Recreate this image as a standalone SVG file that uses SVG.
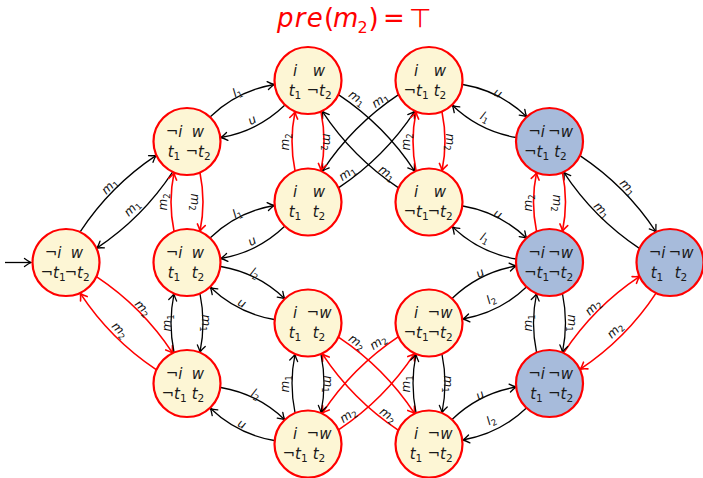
<svg xmlns="http://www.w3.org/2000/svg" width="703" height="478" viewBox="0 0 703 478">
<defs>
<style>
.nd circle{stroke:#f00;stroke-width:2.2}
.y circle{fill:#fdf6d5}
.b circle{fill:#a7bbdb}
.nd text{font-family:"DejaVu Sans",sans-serif;font-size:15px;fill:#1a1a1a;text-anchor:middle}
.v{font-style:italic}
.s{font-size:10.5px;font-style:normal}
.k{fill:none;stroke:#000;stroke-width:1.3;marker-end:url(#ak)}
.r{fill:none;stroke:#f00;stroke-width:1.6;marker-end:url(#ar)}
.lk{font-family:"DejaVu Sans",sans-serif;font-size:12px;font-style:italic;text-anchor:middle;fill:#111}
.ls{font-size:8.5px;font-style:normal}
</style>
<marker id="ak" markerUnits="userSpaceOnUse" viewBox="-8 -5 9 10" markerWidth="9" markerHeight="10" refX="0" refY="0" orient="auto" overflow="visible">
<path d="M-6.5,-4 Q-2.5,-1 0,0 Q-2.5,1 -6.5,4" fill="none" stroke="#000" stroke-width="1.3" stroke-linecap="round"/>
</marker>
<marker id="ar" markerUnits="userSpaceOnUse" viewBox="-8 -5 9 10" markerWidth="9" markerHeight="10" refX="0" refY="0" orient="auto" overflow="visible">
<path d="M-6.5,-4 Q-2.5,-1 0,0 Q-2.5,1 -6.5,4" fill="none" stroke="#f00" stroke-width="1.6" stroke-linecap="round"/>
</marker>
</defs>

<text id="title" font-family="DejaVu Sans, sans-serif" font-size="26" fill="#f00" y="27"><tspan x="277" font-style="italic" letter-spacing="1.3">pre</tspan><tspan x="324">(</tspan><tspan x="333" font-style="italic">m</tspan><tspan x="357.5" font-size="16" dy="6">2</tspan><tspan x="368.5" dy="-6">)</tspan><tspan x="383">=</tspan><tspan x="409">⊤</tspan></text>

<g id="connectors">
<path class="k" d="M5,262.5 H31"/>
<path class="k" transform="translate(66,262.5)" d="M14.3,-30.85 Q44.5,-76.7 90.2,-107.1"/>
<path class="k" transform="translate(66,262.5)" d="M106.7,-90.65 Q76.5,-44.8 30.8,-14.4"/>
<path class="r" transform="translate(66,262.5)" d="M30.8,14.4 Q76.5,44.8 106.7,90.65"/>
<path class="r" transform="translate(66,262.5)" d="M90.2,107.1 Q44.5,76.7 14.3,30.85"/>
<path class="k" transform="translate(187,141.5)" d="M23.3,-24.8 Q50.3,-50.7 87.2,-57"/>
<path class="k" transform="translate(187,141.5)" d="M97.7,-36.2 Q70.7,-10.3 33.8,-4"/>
<path class="k" transform="translate(187,262.5)" d="M23.3,-24.8 Q50.3,-50.7 87.2,-57"/>
<path class="k" transform="translate(187,262.5)" d="M97.7,-36.2 Q70.7,-10.3 33.8,-4"/>
<path class="k" transform="translate(187,262.5)" d="M33.8,4 Q70.7,10.3 97.7,36.2"/>
<path class="k" transform="translate(187,262.5)" d="M87.2,57 Q50.3,50.7 23.3,24.8"/>
<path class="k" transform="translate(187,383.5)" d="M33.8,4 Q70.7,10.3 97.7,36.2"/>
<path class="k" transform="translate(187,383.5)" d="M87.2,57 Q50.3,50.7 23.3,24.8"/>
<path class="k" transform="translate(308,80.5)" d="M30.8,14.4 Q76.5,44.8 106.7,90.65"/>
<path class="k" transform="translate(308,80.5)" d="M90.2,107.1 Q44.5,76.7 14.3,30.85"/>
<path class="k" transform="translate(308,202)" d="M90.2,-107.1 Q44.5,-76.7 14.3,-30.85"/>
<path class="k" transform="translate(308,202)" d="M30.8,-14.4 Q76.5,-44.8 106.7,-90.65"/>
<path class="r" transform="translate(308,323)" d="M30.8,14.4 Q76.5,44.8 106.7,90.65"/>
<path class="r" transform="translate(308,323)" d="M90.2,107.1 Q44.5,76.7 14.3,30.85"/>
<path class="r" transform="translate(308,444)" d="M90.2,-107.1 Q44.5,-76.7 14.3,-30.85"/>
<path class="r" transform="translate(308,444)" d="M30.8,-14.4 Q76.5,-44.8 106.7,-90.65"/>
<path class="k" transform="translate(429,80.5)" d="M33.8,4 Q70.7,10.3 97.7,36.2"/>
<path class="k" transform="translate(429,80.5)" d="M87.2,57 Q50.3,50.7 23.3,24.8"/>
<path class="k" transform="translate(429,202)" d="M33.8,4 Q70.7,10.3 97.7,36.2"/>
<path class="k" transform="translate(429,202)" d="M87.2,57 Q50.3,50.7 23.3,24.8"/>
<path class="k" transform="translate(429,323)" d="M23.3,-24.8 Q50.3,-50.7 87.2,-57"/>
<path class="k" transform="translate(429,323)" d="M97.7,-36.2 Q70.7,-10.3 33.8,-4"/>
<path class="k" transform="translate(429,444)" d="M23.3,-24.8 Q50.3,-50.7 87.2,-57"/>
<path class="k" transform="translate(429,444)" d="M97.7,-36.2 Q70.7,-10.3 33.8,-4"/>
<path class="k" transform="translate(549.5,141.5)" d="M30.8,14.4 Q76.5,44.8 106.7,90.65"/>
<path class="k" transform="translate(549.5,141.5)" d="M90.2,107.1 Q44.5,76.7 14.3,30.85"/>
<path class="r" transform="translate(549.5,383.5)" d="M14.3,-30.85 Q44.5,-76.7 90.2,-107.1"/>
<path class="r" transform="translate(549.5,383.5)" d="M106.7,-90.65 Q76.5,-44.8 30.8,-14.4"/>
<path class="r" transform="translate(187,141.5)" d="M13,31.4 Q19,60.5 13,89.6"/>
<path class="r" transform="translate(187,141.5)" d="M-13,89.6 Q-19,60.5 -13,31.4"/>
<path class="k" transform="translate(187,262.5)" d="M13,31.4 Q19,60.5 13,89.6"/>
<path class="k" transform="translate(187,262.5)" d="M-13,89.6 Q-19,60.5 -13,31.4"/>
<path class="r" transform="translate(308,80.5)" d="M13,31.4 Q19,61 13,90.1"/>
<path class="r" transform="translate(308,80.5)" d="M-13,90.1 Q-19,61 -13,31.4"/>
<path class="r" transform="translate(429,80.5)" d="M13,31.4 Q19,61 13,90.1"/>
<path class="r" transform="translate(429,80.5)" d="M-13,90.1 Q-19,61 -13,31.4"/>
<path class="k" transform="translate(308,323)" d="M13,31.4 Q19,60.5 13,89.6"/>
<path class="k" transform="translate(308,323)" d="M-13,89.6 Q-19,60.5 -13,31.4"/>
<path class="k" transform="translate(429,323)" d="M13,31.4 Q19,60.5 13,89.6"/>
<path class="k" transform="translate(429,323)" d="M-13,89.6 Q-19,60.5 -13,31.4"/>
<path class="r" transform="translate(549.5,141.5)" d="M13,31.4 Q19,60.5 13,89.6"/>
<path class="r" transform="translate(549.5,141.5)" d="M-13,89.6 Q-19,60.5 -13,31.4"/>
<path class="k" transform="translate(549.5,262.5)" d="M13,31.4 Q19,60.5 13,89.6"/>
<path class="k" transform="translate(549.5,262.5)" d="M-13,89.6 Q-19,60.5 -13,31.4"/>

<text class="lk" transform="translate(109.5,186) rotate(-45)" y="4">m<tspan class="ls" dy="2.5">1</tspan></text>
<text class="lk" transform="translate(132,208) rotate(-45)" y="4">m<tspan class="ls" dy="2.5">1</tspan></text>
<text class="lk" transform="translate(237,92) rotate(-27)" y="4">l<tspan class="ls" dy="2.5">1</tspan></text>
<text class="lk" transform="translate(252,120) rotate(-27)" y="4">u</text>
<text class="lk" transform="translate(237,213) rotate(-27)" y="4">l<tspan class="ls" dy="2.5">1</tspan></text>
<text class="lk" transform="translate(252,241) rotate(-27)" y="4">u</text>
<text class="lk" transform="translate(255,273) rotate(27)" y="4">l<tspan class="ls" dy="2.5">2</tspan></text>
<text class="lk" transform="translate(242,303) rotate(27)" y="4">u</text>
<text class="lk" transform="translate(256,394) rotate(27)" y="4">l<tspan class="ls" dy="2.5">2</tspan></text>
<text class="lk" transform="translate(242,424) rotate(27)" y="4">u</text>
<text class="lk" transform="translate(167,323) rotate(-90)" y="4">m<tspan class="ls" dy="2.5">1</tspan></text>
<text class="lk" transform="translate(206,323) rotate(90)" y="4">m<tspan class="ls" dy="2.5">1</tspan></text>
<text class="lk" transform="translate(357,98) rotate(35)" y="4">m<tspan class="ls" dy="2.5">1</tspan></text>
<text class="lk" transform="translate(387,173) rotate(35)" y="4">m<tspan class="ls" dy="2.5">1</tspan></text>
<text class="lk" transform="translate(380,100) rotate(-35)" y="4">m<tspan class="ls" dy="2.5">1</tspan></text>
<text class="lk" transform="translate(347,173) rotate(-35)" y="4">m<tspan class="ls" dy="2.5">1</tspan></text>
<text class="lk" transform="translate(285,384) rotate(-90)" y="4">m<tspan class="ls" dy="2.5">1</tspan></text>
<text class="lk" transform="translate(328,384) rotate(90)" y="4">m<tspan class="ls" dy="2.5">1</tspan></text>
<text class="lk" transform="translate(406,384) rotate(-90)" y="4">m<tspan class="ls" dy="2.5">1</tspan></text>
<text class="lk" transform="translate(448,384) rotate(90)" y="4">m<tspan class="ls" dy="2.5">1</tspan></text>
<text class="lk" transform="translate(498,93) rotate(27)" y="4">u</text>
<text class="lk" transform="translate(485,117) rotate(27)" y="4">l<tspan class="ls" dy="2.5">1</tspan></text>
<text class="lk" transform="translate(498,214) rotate(27)" y="4">u</text>
<text class="lk" transform="translate(485,238) rotate(27)" y="4">l<tspan class="ls" dy="2.5">1</tspan></text>
<text class="lk" transform="translate(480,273) rotate(-27)" y="4">u</text>
<text class="lk" transform="translate(491,299) rotate(-27)" y="4">l<tspan class="ls" dy="2.5">2</tspan></text>
<text class="lk" transform="translate(480,395) rotate(-27)" y="4">u</text>
<text class="lk" transform="translate(491,420) rotate(-27)" y="4">l<tspan class="ls" dy="2.5">2</tspan></text>
<text class="lk" transform="translate(528,323) rotate(-90)" y="4">m<tspan class="ls" dy="2.5">1</tspan></text>
<text class="lk" transform="translate(572,323) rotate(90)" y="4">m<tspan class="ls" dy="2.5">1</tspan></text>
<text class="lk" transform="translate(628,187) rotate(45)" y="4">m<tspan class="ls" dy="2.5">1</tspan></text>
<text class="lk" transform="translate(602,210) rotate(45)" y="4">m<tspan class="ls" dy="2.5">1</tspan></text>
<text class="lk" transform="translate(143,308) rotate(45)" y="4">m<tspan class="ls" dy="2.5">2</tspan></text>
<text class="lk" transform="translate(120,330) rotate(45)" y="4">m<tspan class="ls" dy="2.5">2</tspan></text>
<text class="lk" transform="translate(163,202) rotate(-90)" y="4">m<tspan class="ls" dy="2.5">2</tspan></text>
<text class="lk" transform="translate(195,202) rotate(90)" y="4">m<tspan class="ls" dy="2.5">2</tspan></text>
<text class="lk" transform="translate(285,142) rotate(-90)" y="4">m<tspan class="ls" dy="2.5">2</tspan></text>
<text class="lk" transform="translate(327,142) rotate(90)" y="4">m<tspan class="ls" dy="2.5">2</tspan></text>
<text class="lk" transform="translate(406,142) rotate(-90)" y="4">m<tspan class="ls" dy="2.5">2</tspan></text>
<text class="lk" transform="translate(450,142) rotate(90)" y="4">m<tspan class="ls" dy="2.5">2</tspan></text>
<text class="lk" transform="translate(357,342) rotate(35)" y="4">m<tspan class="ls" dy="2.5">2</tspan></text>
<text class="lk" transform="translate(378,342) rotate(-35)" y="4">m<tspan class="ls" dy="2.5">2</tspan></text>
<text class="lk" transform="translate(348,415) rotate(-35)" y="4">m<tspan class="ls" dy="2.5">2</tspan></text>
<text class="lk" transform="translate(388,415) rotate(35)" y="4">m<tspan class="ls" dy="2.5">2</tspan></text>
<text class="lk" transform="translate(528,203) rotate(-90)" y="4">m<tspan class="ls" dy="2.5">2</tspan></text>
<text class="lk" transform="translate(557,203) rotate(90)" y="4">m<tspan class="ls" dy="2.5">2</tspan></text>
<text class="lk" transform="translate(593,307) rotate(-45)" y="4">m<tspan class="ls" dy="2.5">2</tspan></text>
<text class="lk" transform="translate(615,330) rotate(-45)" y="4">m<tspan class="ls" dy="2.5">2</tspan></text>
</g>

<g id="A" class="nd y" transform="translate(66,262.5)"><circle r="33.5"/>
<text x="-13" y="-5">¬<tspan class="v">i</tspan></text><text x="11" y="-5" class="v">w</text>
<text x="-13" y="15">¬<tspan class="v">t</tspan><tspan class="s" dy="3">1</tspan></text><text x="11" y="15">¬<tspan class="v">t</tspan><tspan class="s" dy="3">2</tspan></text></g>
<g id="B" class="nd y" transform="translate(187,141.5)"><circle r="33.5"/>
<text x="-13" y="-5">¬<tspan class="v">i</tspan></text><text x="11" y="-5" class="v">w</text>
<text x="-13" y="15"><tspan class="v">t</tspan><tspan class="s" dy="3">1</tspan></text><text x="11" y="15">¬<tspan class="v">t</tspan><tspan class="s" dy="3">2</tspan></text></g>
<g id="C" class="nd y" transform="translate(187,262.5)"><circle r="33.5"/>
<text x="-13" y="-5">¬<tspan class="v">i</tspan></text><text x="11" y="-5" class="v">w</text>
<text x="-13" y="15"><tspan class="v">t</tspan><tspan class="s" dy="3">1</tspan></text><text x="11" y="15"><tspan class="v">t</tspan><tspan class="s" dy="3">2</tspan></text></g>
<g id="D" class="nd y" transform="translate(187,383.5)"><circle r="33.5"/>
<text x="-13" y="-5">¬<tspan class="v">i</tspan></text><text x="11" y="-5" class="v">w</text>
<text x="-13" y="15">¬<tspan class="v">t</tspan><tspan class="s" dy="3">1</tspan></text><text x="11" y="15"><tspan class="v">t</tspan><tspan class="s" dy="3">2</tspan></text></g>
<g id="E" class="nd y" transform="translate(308,80.5)"><circle r="33.5"/>
<text x="-13" y="-5" class="v">i</text><text x="11" y="-5" class="v">w</text>
<text x="-13" y="15"><tspan class="v">t</tspan><tspan class="s" dy="3">1</tspan></text><text x="11" y="15">¬<tspan class="v">t</tspan><tspan class="s" dy="3">2</tspan></text></g>
<g id="F" class="nd y" transform="translate(308,202)"><circle r="33.5"/>
<text x="-13" y="-5" class="v">i</text><text x="11" y="-5" class="v">w</text>
<text x="-13" y="15"><tspan class="v">t</tspan><tspan class="s" dy="3">1</tspan></text><text x="11" y="15"><tspan class="v">t</tspan><tspan class="s" dy="3">2</tspan></text></g>
<g id="G" class="nd y" transform="translate(429,80.5)"><circle r="33.5"/>
<text x="-13" y="-5" class="v">i</text><text x="11" y="-5" class="v">w</text>
<text x="-13" y="15">¬<tspan class="v">t</tspan><tspan class="s" dy="3">1</tspan></text><text x="11" y="15"><tspan class="v">t</tspan><tspan class="s" dy="3">2</tspan></text></g>
<g id="H" class="nd y" transform="translate(429,202)"><circle r="33.5"/>
<text x="-13" y="-5" class="v">i</text><text x="11" y="-5" class="v">w</text>
<text x="-13" y="15">¬<tspan class="v">t</tspan><tspan class="s" dy="3">1</tspan></text><text x="11" y="15">¬<tspan class="v">t</tspan><tspan class="s" dy="3">2</tspan></text></g>
<g id="I" class="nd y" transform="translate(308,323)"><circle r="33.5"/>
<text x="-13" y="-5" class="v">i</text><text x="11" y="-5">¬<tspan class="v">w</tspan></text>
<text x="-13" y="15"><tspan class="v">t</tspan><tspan class="s" dy="3">1</tspan></text><text x="11" y="15"><tspan class="v">t</tspan><tspan class="s" dy="3">2</tspan></text></g>
<g id="J" class="nd y" transform="translate(429,323)"><circle r="33.5"/>
<text x="-13" y="-5" class="v">i</text><text x="11" y="-5">¬<tspan class="v">w</tspan></text>
<text x="-13" y="15">¬<tspan class="v">t</tspan><tspan class="s" dy="3">1</tspan></text><text x="11" y="15">¬<tspan class="v">t</tspan><tspan class="s" dy="3">2</tspan></text></g>
<g id="K" class="nd y" transform="translate(308,444)"><circle r="33.5"/>
<text x="-13" y="-5" class="v">i</text><text x="11" y="-5">¬<tspan class="v">w</tspan></text>
<text x="-13" y="15">¬<tspan class="v">t</tspan><tspan class="s" dy="3">1</tspan></text><text x="11" y="15"><tspan class="v">t</tspan><tspan class="s" dy="3">2</tspan></text></g>
<g id="L" class="nd y" transform="translate(429,444)"><circle r="33.5"/>
<text x="-13" y="-5" class="v">i</text><text x="11" y="-5">¬<tspan class="v">w</tspan></text>
<text x="-13" y="15"><tspan class="v">t</tspan><tspan class="s" dy="3">1</tspan></text><text x="11" y="15">¬<tspan class="v">t</tspan><tspan class="s" dy="3">2</tspan></text></g>
<g id="M" class="nd b" transform="translate(549.5,141.5)"><circle r="33.5"/>
<text x="-13" y="-5">¬<tspan class="v">i</tspan></text><text x="11" y="-5">¬<tspan class="v">w</tspan></text>
<text x="-13" y="15">¬<tspan class="v">t</tspan><tspan class="s" dy="3">1</tspan></text><text x="11" y="15"><tspan class="v">t</tspan><tspan class="s" dy="3">2</tspan></text></g>
<g id="N" class="nd b" transform="translate(549.5,262.5)"><circle r="33.5"/>
<text x="-13" y="-5">¬<tspan class="v">i</tspan></text><text x="11" y="-5">¬<tspan class="v">w</tspan></text>
<text x="-13" y="15">¬<tspan class="v">t</tspan><tspan class="s" dy="3">1</tspan></text><text x="11" y="15">¬<tspan class="v">t</tspan><tspan class="s" dy="3">2</tspan></text></g>
<g id="O" class="nd b" transform="translate(670,262.5)"><circle r="33.5"/>
<text x="-13" y="-5">¬<tspan class="v">i</tspan></text><text x="11" y="-5">¬<tspan class="v">w</tspan></text>
<text x="-13" y="15"><tspan class="v">t</tspan><tspan class="s" dy="3">1</tspan></text><text x="11" y="15"><tspan class="v">t</tspan><tspan class="s" dy="3">2</tspan></text></g>
<g id="P" class="nd b" transform="translate(549.5,383.5)"><circle r="33.5"/>
<text x="-13" y="-5">¬<tspan class="v">i</tspan></text><text x="11" y="-5">¬<tspan class="v">w</tspan></text>
<text x="-13" y="15"><tspan class="v">t</tspan><tspan class="s" dy="3">1</tspan></text><text x="11" y="15">¬<tspan class="v">t</tspan><tspan class="s" dy="3">2</tspan></text></g>
</svg>
